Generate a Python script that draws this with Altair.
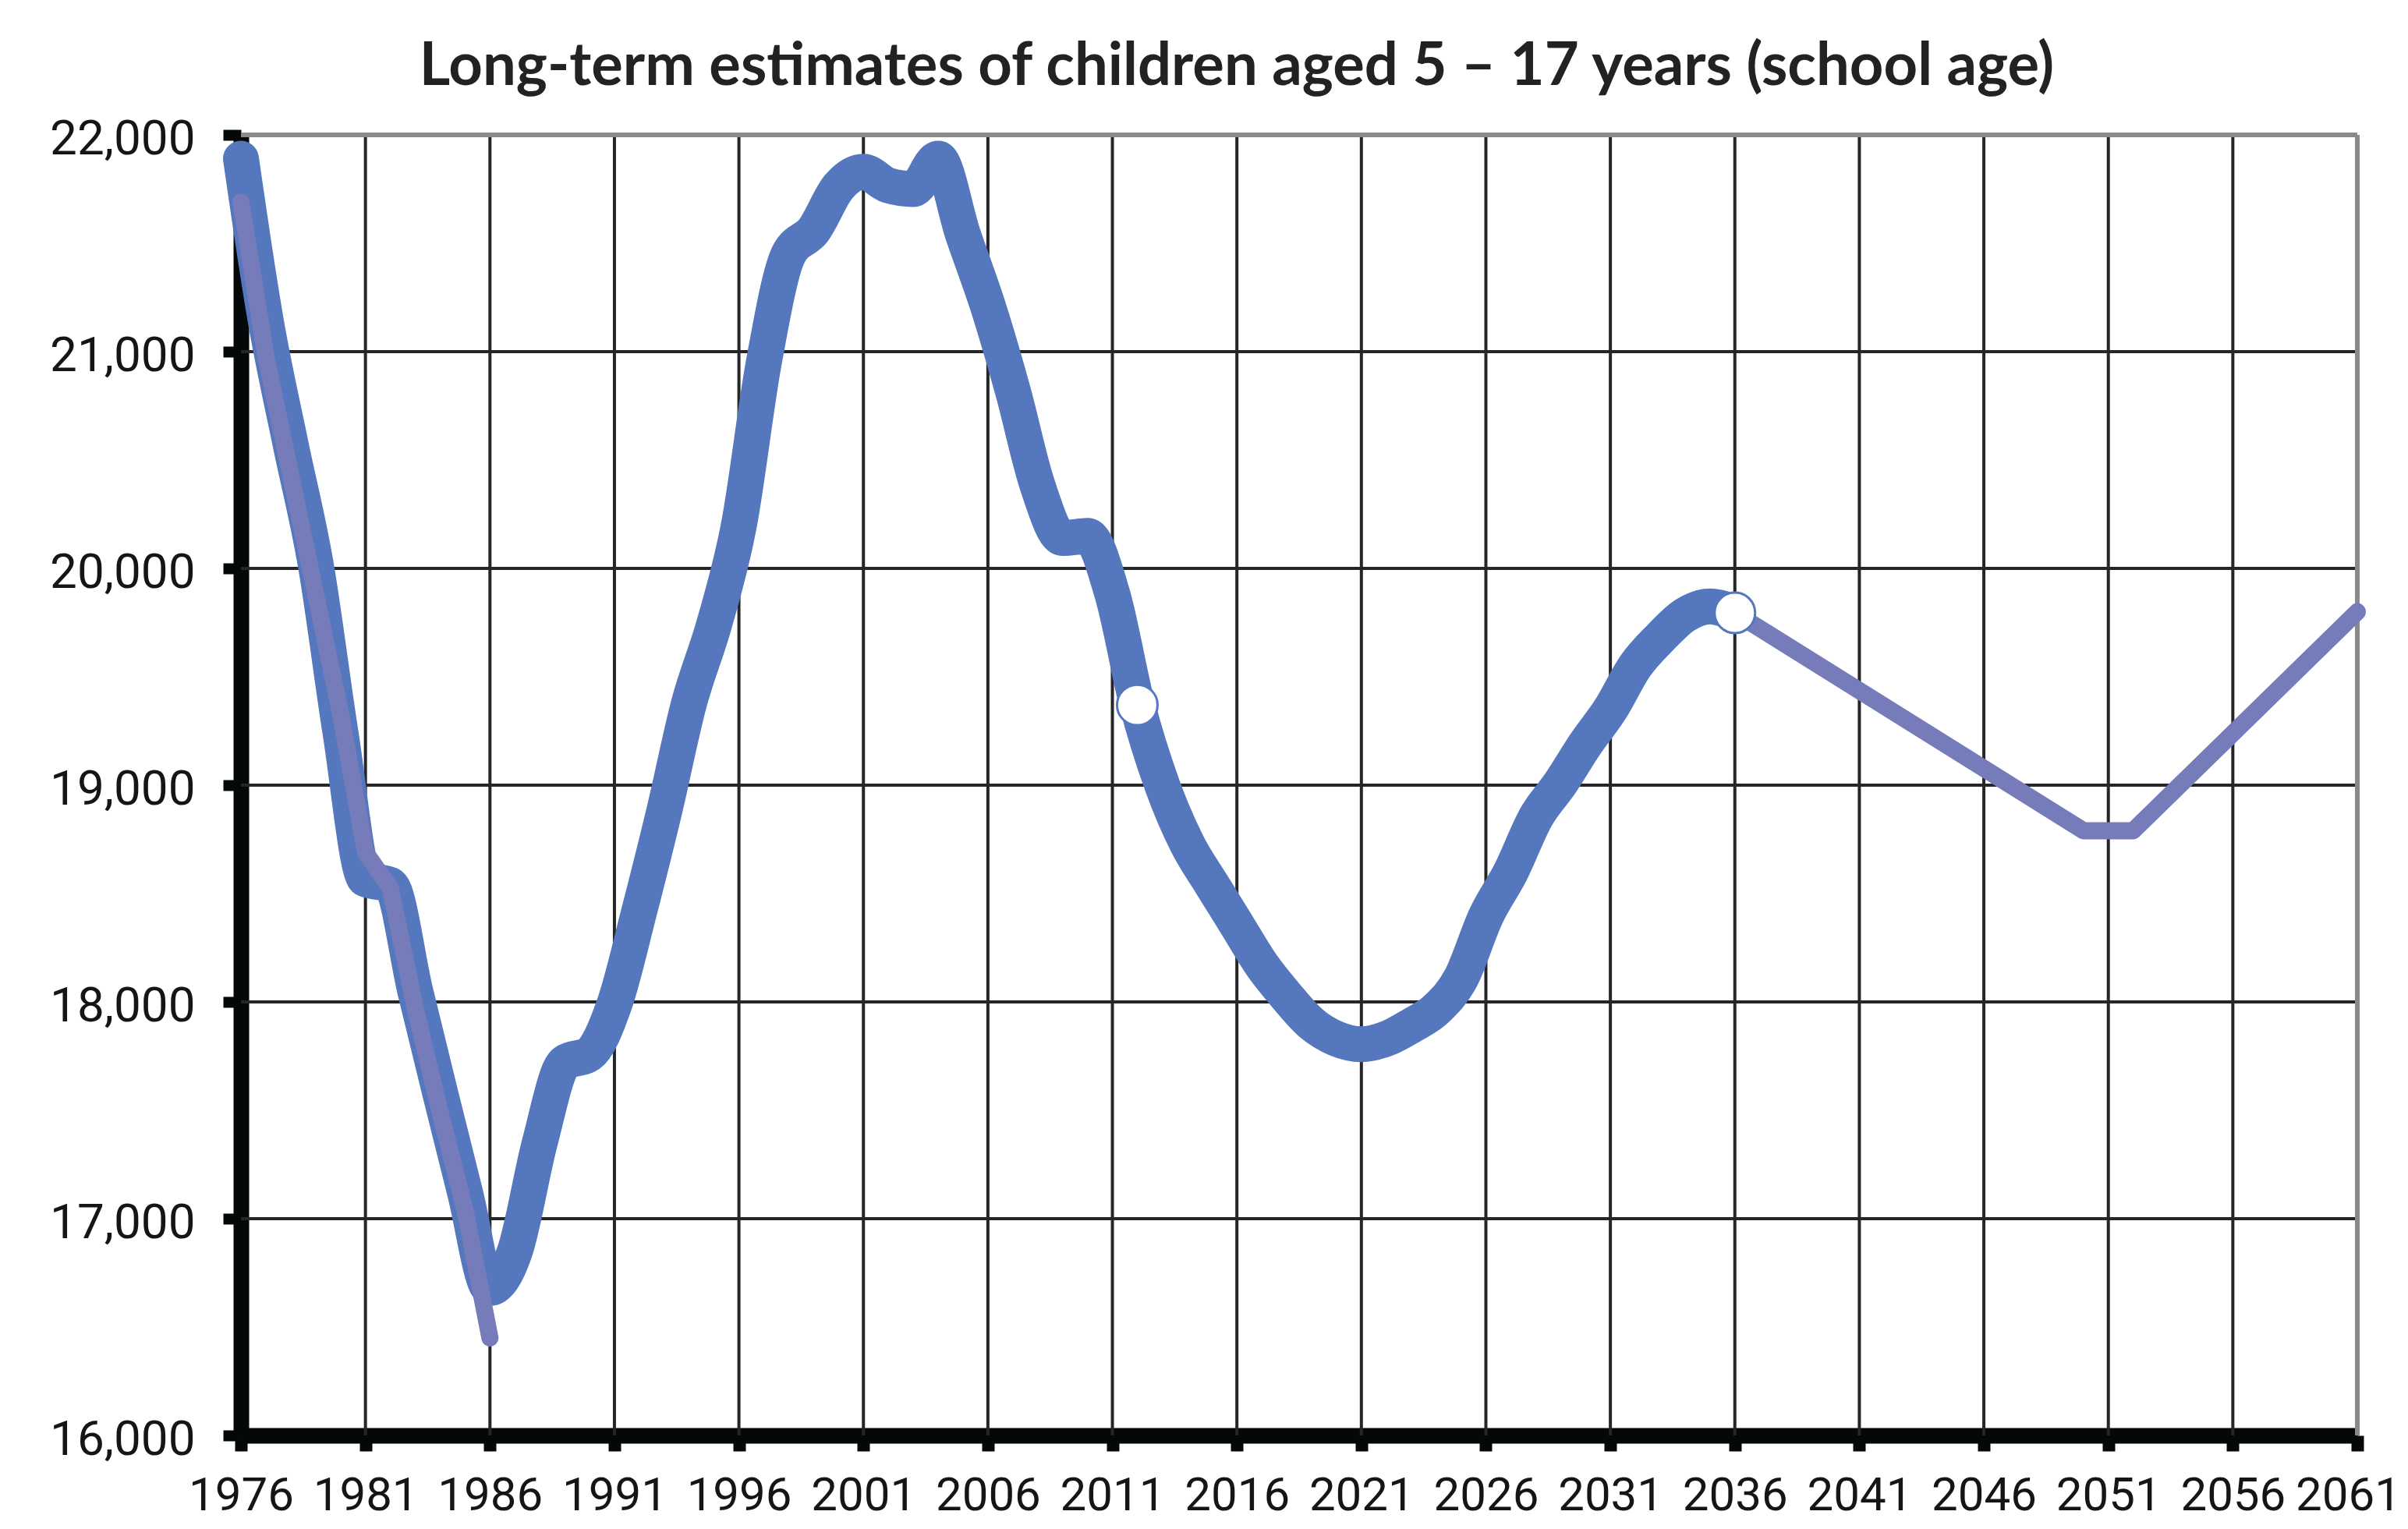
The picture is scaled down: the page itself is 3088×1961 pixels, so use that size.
import altair as alt
import pandas as pd

TITLE = "Long-term estimates of children aged 5 – 17 years (school age)"

# Main (thick blue) series, yearly 1976-2036
blue_years = list(range(1976, 2037))
blue_values = [
    21890, 21140, 20570, 20020, 19240, 18566, 18540, 18050, 17580, 17120,
    16680, 16850, 17350, 17720, 17760, 17990, 18420, 18880, 19380, 19740,
    20200, 20950, 21450, 21560, 21760, 21830, 21767, 21750, 21890, 21540,
    21210, 20820, 20380, 20140, 20150, 19880, 19370, 19000, 18730, 18540,
    18355, 18170, 18025, 17900, 17830, 17805, 17830, 17890, 17965, 18110,
    18395, 18600, 18850, 19010, 19190, 19350, 19550, 19680, 19785, 19825,
    19795,
]

# Thin purple series (two segments)
purple_years = [1976, 1977, 1978, 1979, 1980, 1981, 1982, 1983, 1984, 1985, 1986,
                2036, 2050, 2052, 2061]
purple_values = [21690, 20980, 20430, 19880, 19330, 18690, 18525, 17970, 17490, 17040, 16450,
                 19795, 18790, 18790, 19800]
purple_segment = ["a", "a", "a", "a", "a", "a", "a", "a", "a", "a", "a",
                  "b", "b", "b", "b"]

# Open markers
marker_years = [2012, 2036]
marker_values = [19370, 19795]

# Axis ticks and gridlines
x_tick_years = [1976, 1981, 1986, 1991, 1996, 2001, 2006, 2011, 2016,
                2021, 2026, 2031, 2036, 2041, 2046, 2051, 2056, 2061]
y_tick_values = [16000, 17000, 18000, 19000, 20000, 21000, 22000]
grid_years = [1981, 1986, 1991, 1996, 2001, 2006, 2011, 2016,
              2021, 2026, 2031, 2036, 2041, 2046, 2051, 2056]
grid_values = [17000, 18000, 19000, 20000, 21000]
border_years = [2061]
border_values = [22000]

blue_df = pd.DataFrame({"year": blue_years, "count": blue_values})
purple_df = pd.DataFrame({"year": purple_years, "count": purple_values, "seg": purple_segment})
marker_df = pd.DataFrame({"year": marker_years, "count": marker_values})
gx_df = pd.DataFrame({"year": grid_years})
gy_df = pd.DataFrame({"count": grid_values})
bx_df = pd.DataFrame({"year": border_years})
by_df = pd.DataFrame({"count": border_values})

W, H = 2714, 1668
LABEL_FONT = "Roboto"
BLUE = "#5577bd"
PURPLE = "#767bba"
GRID = "#262626"
AXIS = "#050808"

x_scale = alt.Scale(domain=[1976, 2061], nice=False, zero=False)
y_scale = alt.Scale(domain=[16000, 22000], nice=False, zero=False)

x_axis = alt.Axis(values=x_tick_years, format="d", grid=False, title=None,
                  domainColor=AXIS, domainWidth=20, tickColor=AXIS, tickWidth=16,
                  tickSize=20, labelFont=LABEL_FONT, labelFontSize=60,
                  labelColor="#151515", labelPadding=28, labelFlush=False,
                  labelOverlap=False, labelLimit=0,
                  labelOffset={"expr": "datum.value == 2061 ? -12 : 0"})
y_axis = alt.Axis(values=y_tick_values, format=",d", grid=False, title=None,
                  domainColor=AXIS, domainWidth=20, tickColor=AXIS, tickWidth=14,
                  tickSize=23, labelFont=LABEL_FONT, labelFontSize=62,
                  labelColor="#151515", labelPadding=36, labelOffset=5,
                  labelFlush=False, labelOverlap=False, labelLimit=0)

grid_x = alt.Chart(gx_df).mark_rule(color=GRID, strokeWidth=4).encode(
    x=alt.X("year:Q", scale=x_scale, axis=x_axis)
)
grid_y = alt.Chart(gy_df).mark_rule(color=GRID, strokeWidth=4).encode(
    y=alt.Y("count:Q", scale=y_scale, axis=y_axis)
)
border_x = alt.Chart(bx_df).mark_rule(color="#8a8a8a", strokeWidth=6).encode(
    x=alt.X("year:Q")
)
border_y = alt.Chart(by_df).mark_rule(color="#8a8a8a", strokeWidth=6).encode(
    y=alt.Y("count:Q")
)

blue_line = alt.Chart(blue_df).mark_line(
    color=BLUE, strokeWidth=46, interpolate="monotone", strokeCap="round", strokeJoin="round"
).encode(x=alt.X("year:Q"), y=alt.Y("count:Q"))

purple_line = alt.Chart(purple_df).mark_line(
    color=PURPLE, strokeWidth=22, strokeCap="round", strokeJoin="round"
).encode(x=alt.X("year:Q"), y=alt.Y("count:Q"), detail="seg:N")

markers = alt.Chart(marker_df).mark_point(
    shape="circle", filled=True, fill="white", stroke=BLUE, strokeWidth=3,
    size=2700, opacity=1
).encode(x=alt.X("year:Q"), y=alt.Y("count:Q"))

chart = alt.layer(
    grid_x, grid_y, border_x, border_y, blue_line, purple_line, markers
).properties(
    width=W,
    height=H,
    autosize=alt.AutoSizeParams(type="none"),
    padding={"left": 301, "top": 165, "right": 57, "bottom": 112},
    title=alt.TitleParams(
        TITLE, font="Lato", fontSize=76, fontWeight="bold", color="#222222",
        anchor="middle", dx=-80, offset=22
    ),
).configure_view(
    fill="#f4f5f7", stroke="transparent"
).configure(background="white")

chart.save("out.html", embed_options={"renderer": "svg", "actions": False})
